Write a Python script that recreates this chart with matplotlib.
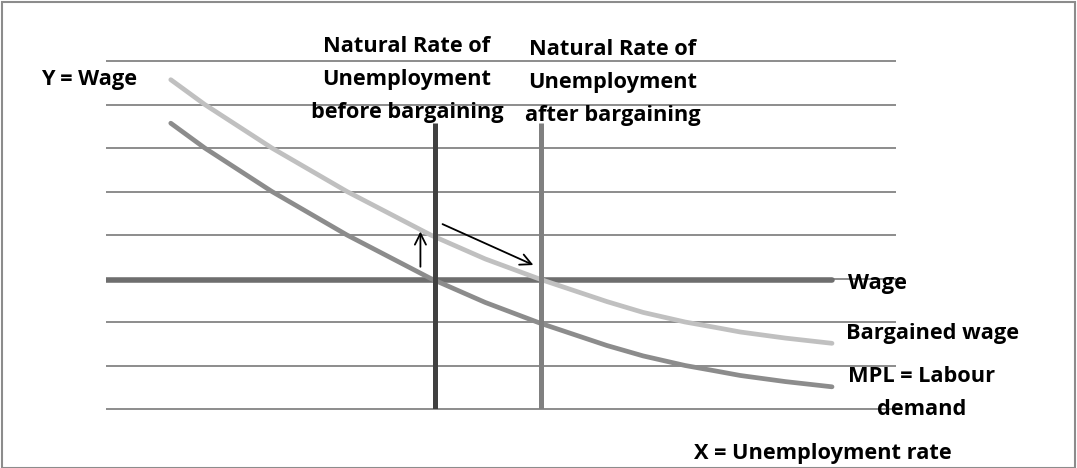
import matplotlib
matplotlib.use("Agg")
import matplotlib.pyplot as plt
from matplotlib.patches import Rectangle

plt.rcParams['font.family'] = ['Open Sans', 'DejaVu Sans']

# data (x = unemployment rate, y = wage, arbitrary units)
x_curve = [0.82, 1.25, 2.10, 3.05, 4.11, 4.80, 5.50, 6.34, 6.80, 7.33, 7.70, 8.03, 8.60, 9.19]
mpl_demand = [6.57, 6.00, 5.00, 4.00, 3.00, 2.45, 1.97, 1.46, 1.22, 1.00, 0.88, 0.77, 0.63, 0.51]
bargained = [7.57, 7.00, 6.00, 5.00, 4.00, 3.45, 2.98, 2.47, 2.22, 2.00, 1.88, 1.77, 1.63, 1.51]
wage_x = [0.0, 9.19]
wage_y = [2.97, 2.97]
natural_before = 4.17
natural_after = 5.51
natural_top = 6.57
grid_levels = list(range(9))

# little arrows (start, end)
arrow_up = [(3.98, 3.27), (3.98, 4.08)]
arrow_shift = [(4.26, 4.25), (5.41, 3.31)]

W, H = 1077, 468
fig = plt.figure(figsize=(W / 100, H / 100), dpi=100)
ax = fig.add_axes([106 / W, 1 - 409 / H, 790 / W, 348 / H])
ax.set_xlim(0, 10)
ax.set_ylim(0, 8)
ax.axis('off')

ax.hlines(grid_levels, 0, 10, color='#8c8c8c', lw=1.4, clip_on=False, zorder=1)
ax.plot(wage_x, wage_y, color='#6e6e6e', lw=4.0, solid_capstyle='round', zorder=2)
ax.plot(x_curve, bargained, color='#c0c0c0', lw=3.4, solid_capstyle='round',
        solid_joinstyle='round', zorder=3)
ax.plot(x_curve, mpl_demand, color='#8c8c8c', lw=3.4, solid_capstyle='round',
        solid_joinstyle='round', zorder=3)
ax.vlines(natural_before, 0, natural_top, color='#404040', lw=3.6, zorder=4)
ax.vlines(natural_after, 0, natural_top, color='#808080', lw=3.6, zorder=4)

for a in (arrow_up, arrow_shift):
    ax.annotate('', xy=a[1], xytext=a[0],
                arrowprops=dict(arrowstyle='->', color='black', lw=1.3,
                                mutation_scale=20, shrinkA=0, shrinkB=0),
                zorder=5)

def label(px, py, s, ha='center'):
    fig.text(px / W, 1 - py / H, s, ha=ha, va='center', fontsize=15.7,
             fontweight='bold', linespacing=1.75)

label(137, 80, 'Y = Wage', ha='right')
label(407, 79, 'Natural Rate of\nUnemployment\nbefore bargaining')
label(613, 82.5, 'Natural Rate of\nUnemployment\nafter bargaining')
label(848, 283, 'Wage', ha='left')
label(846, 334, 'Bargained wage', ha='left')
label(922, 393, 'MPL = Labour\ndemand')
label(823, 454, 'X = Unemployment rate')

fig.patches.append(Rectangle((2 / W, 0), 1 - 4 / W, 1 - 2 / H, transform=fig.transFigure,
                             fill=False, edgecolor='#8c8c8c', lw=1.5))

fig.savefig('out.png', dpi=100)
